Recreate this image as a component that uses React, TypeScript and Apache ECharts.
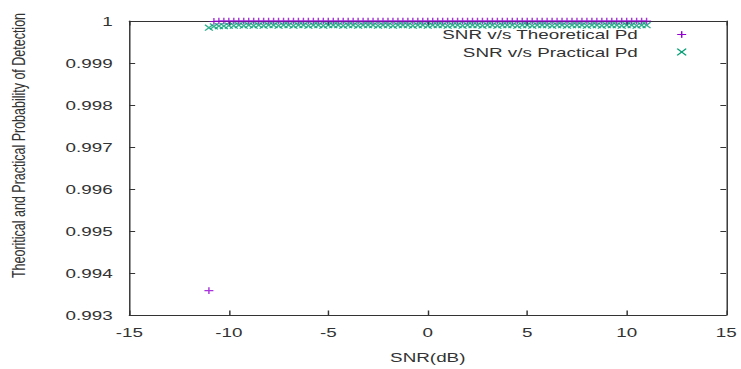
import React, { useEffect, useRef } from "react";
import * as echarts from "echarts";

// SNR values (dB)
const snrDb = [
  -11, -10.75, -10.5, -10.25, -10, -9.75, -9.5, -9.25, -9, -8.75,
  -8.5, -8.25, -8, -7.75, -7.5, -7.25, -7, -6.75, -6.5, -6.25,
  -6, -5.75, -5.5, -5.25, -5, -4.75, -4.5, -4.25, -4, -3.75,
  -3.5, -3.25, -3, -2.75, -2.5, -2.25, -2, -1.75, -1.5, -1.25,
  -1, -0.75, -0.5, -0.25, 0, 0.25, 0.5, 0.75, 1, 1.25,
  1.5, 1.75, 2, 2.25, 2.5, 2.75, 3, 3.25, 3.5, 3.75,
  4, 4.25, 4.5, 4.75, 5, 5.25, 5.5, 5.75, 6, 6.25,
  6.5, 6.75, 7, 7.25, 7.5, 7.75, 8, 8.25, 8.5, 8.75,
  9, 9.25, 9.5, 9.75, 10, 10.25, 10.5, 10.75, 11,
];

// Theoretical probability of detection
const theoreticalPd = [
  0.99358, 0.99999, 1, 1, 1, 1, 1, 1, 1, 1,
  1, 1, 1, 1, 1, 1, 1, 1, 1, 1,
  1, 1, 1, 1, 1, 1, 1, 1, 1, 1,
  1, 1, 1, 1, 1, 1, 1, 1, 1, 1,
  1, 1, 1, 1, 1, 1, 1, 1, 1, 1,
  1, 1, 1, 1, 1, 1, 1, 1, 1, 1,
  1, 1, 1, 1, 1, 1, 1, 1, 1, 1,
  1, 1, 1, 1, 1, 1, 1, 1, 1, 1,
  1, 1, 1, 1, 1, 1, 1, 1, 1,
];

// Practical probability of detection
const practicalPd = [
  0.99984, 0.99987, 0.99988, 0.99988, 0.99989, 0.99989, 0.9999, 0.99989, 0.9999, 0.99989,
  0.9999, 0.99989, 0.9999, 0.9999, 0.99989, 0.9999, 0.9999, 0.99989, 0.9999, 0.9999,
  0.99989, 0.9999, 0.9999, 0.99989, 0.9999, 0.9999, 0.9999, 0.99989, 0.9999, 0.9999,
  0.99989, 0.9999, 0.9999, 0.9999, 0.99989, 0.9999, 0.9999, 0.99989, 0.9999, 0.9999,
  0.9999, 0.99989, 0.9999, 0.9999, 0.99989, 0.9999, 0.9999, 0.9999, 0.99989, 0.9999,
  0.9999, 0.99989, 0.9999, 0.9999, 0.9999, 0.99989, 0.9999, 0.9999, 0.99989, 0.9999,
  0.9999, 0.9999, 0.99989, 0.9999, 0.9999, 0.99989, 0.9999, 0.9999, 0.9999, 0.99989,
  0.9999, 0.9999, 0.99989, 0.9999, 0.9999, 0.9999, 0.99989, 0.9999, 0.9999, 0.99989,
  0.9999, 0.9999, 0.9999, 0.99989, 0.9999, 0.9999, 0.99989, 0.9999, 0.9999,
];

const seriesNames = ["SNR v/s Theoretical Pd", "SNR v/s Practical Pd"];
const xAxisTitle = "SNR(dB)";
const yAxisTitle = "Theoritical and Practical Probability of Detection";
const xRange = { min: -15, max: 15, interval: 5 };
const yRange = { min: 0.993, max: 1, interval: 0.001 };

const PURPLE = "#9400d3";
const GREEN = "#009e73";
const INK = "#333333";
const FONT = "'Liberation Sans', Arial, sans-serif";

const BASE_W = 511;
const BASE_H = 369;
const STRETCH = 741 / BASE_W;

const PLUS = "path://M0,4.2H10V5.8H0Z M4.2,0H5.8V10H4.2Z";
const CROSS = "path://M0,1.2L1.2,0L10,8.8L8.8,10Z M8.8,0L10,1.2L1.2,10L0,8.8Z";

export default function App() {
  const ref = useRef<HTMLDivElement>(null);

  useEffect(() => {
    if (!ref.current) return;
    const chart = echarts.init(ref.current, undefined, { renderer: "svg" });

    const theoData = snrDb.map((x, i) => [x, theoreticalPd[i]]);
    const pracData = snrDb.map((x, i) => [x, practicalPd[i]]);

    const axisCommon = {
      axisLine: { show: true, onZero: false, lineStyle: { color: INK, width: 1 } },
      splitLine: { show: false },
    };

    const lx = 470.1;
    const l1 = 34.5;
    const l2 = 52;
    const hw = 3.1;
    const hh = 3.35;

    chart.setOption({
      animation: false,
      backgroundColor: "#ffffff",
      grid: { left: 89.2, right: 7.6, top: 21, bottom: 51, containLabel: false },
      xAxis: [
        {
          type: "value",
          position: "bottom",
          ...xRange,
          ...axisCommon,
          axisTick: { show: true, inside: true, length: 4.5, lineStyle: { color: INK } },
          axisLabel: { show: true, margin: 11, color: INK, fontSize: 13, fontFamily: FONT },
          name: xAxisTitle,
          nameLocation: "middle",
          nameGap: 36,
          nameTextStyle: { color: INK, fontSize: 13, fontFamily: FONT },
        },
        {
          type: "value",
          position: "top",
          ...xRange,
          ...axisCommon,
          axisTick: { show: true, inside: true, length: 4.5, lineStyle: { color: INK } },
          axisLabel: { show: false },
        },
      ],
      yAxis: [
        {
          type: "value",
          position: "left",
          ...yRange,
          ...axisCommon,
          axisTick: { show: true, inside: true, length: 4, lineStyle: { color: INK } },
          axisLabel: {
            show: true,
            margin: 11.5,
            color: INK,
            fontSize: 13,
            fontFamily: FONT,
            formatter: (v: number) => String(parseFloat(v.toFixed(3))),
          },
        },
        {
          type: "value",
          position: "right",
          ...yRange,
          ...axisCommon,
          axisTick: { show: true, inside: true, length: 4, lineStyle: { color: INK } },
          axisLabel: { show: false },
        },
      ],
      series: [
        {
          name: seriesNames[0],
          type: "scatter",
          xAxisIndex: 0,
          yAxisIndex: 0,
          data: theoData,
          symbol: PLUS,
          symbolSize: [6.2, 6.7],
          itemStyle: { color: PURPLE },
          clip: false,
          z: 3,
        },
        {
          name: seriesNames[1],
          type: "scatter",
          xAxisIndex: 0,
          yAxisIndex: 0,
          data: pracData,
          symbol: CROSS,
          symbolSize: [6.2, 6.7],
          itemStyle: { color: GREEN },
          clip: false,
          z: 4,
        },
      ],
      graphic: [
        {
          type: "text",
          x: 13,
          y: 145.5,
          rotation: Math.PI / 2,
          style: {
            text: yAxisTitle,
            fill: INK,
            fontSize: 12.5,
            fontFamily: FONT,
            align: "center",
            verticalAlign: "middle",
          },
        },
        {
          type: "text",
          x: 439.8,
          y: l1,
          style: {
            text: seriesNames[0],
            fill: INK,
            fontSize: 13,
            fontFamily: FONT,
            align: "right",
            verticalAlign: "middle",
          },
        },
        {
          type: "text",
          x: 439.8,
          y: l2,
          style: {
            text: seriesNames[1],
            fill: INK,
            fontSize: 13,
            fontFamily: FONT,
            align: "right",
            verticalAlign: "middle",
          },
        },
        {
          type: "line",
          shape: { x1: lx - hw, y1: l1, x2: lx + hw, y2: l1 },
          style: { stroke: PURPLE, lineWidth: 1 },
        },
        {
          type: "line",
          shape: { x1: lx, y1: l1 - hh, x2: lx, y2: l1 + hh },
          style: { stroke: PURPLE, lineWidth: 1 },
        },
        {
          type: "line",
          shape: { x1: lx - hw, y1: l2 - hh, x2: lx + hw, y2: l2 + hh },
          style: { stroke: GREEN, lineWidth: 1 },
        },
        {
          type: "line",
          shape: { x1: lx + hw, y1: l2 - hh, x2: lx - hw, y2: l2 + hh },
          style: { stroke: GREEN, lineWidth: 1 },
        },
      ],
    });

    return () => {
      chart.dispose();
    };
  }, []);

  return (
    <div
      style={{
        position: "fixed",
        left: 0,
        top: 0,
        width: 741,
        height: 369,
        overflow: "hidden",
        background: "#ffffff",
      }}
    >
      <div
        style={{
          width: BASE_W,
          height: BASE_H,
          transform: `scaleX(${STRETCH})`,
          transformOrigin: "0 0",
        }}
      >
        <div ref={ref} style={{ width: BASE_W, height: BASE_H }} />
      </div>
    </div>
  );
}
